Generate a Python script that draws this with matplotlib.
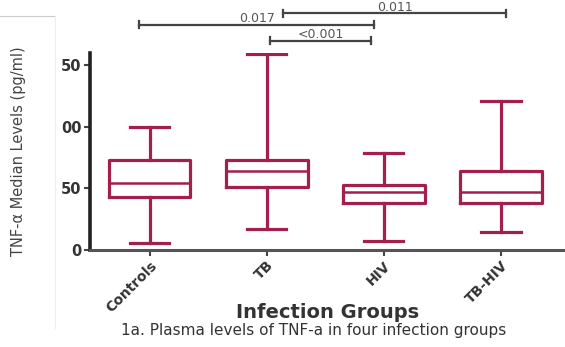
import matplotlib
matplotlib.use("Agg")
from matplotlib import pyplot as plt
from matplotlib.lines import Line2D

plt.rcParams["font.family"] = ["DejaVu Sans"]

groups = ["Controls", "TB", "HIV", "TB-HIV"]
whis_lo = [6, 17, 7, 15]
q1 = [43, 51, 38, 38]
med = [54, 64, 47, 47]
q3 = [73, 73, 53, 64]
whis_hi = [100, 159, 79, 121]

ytick_vals = [0, 50, 100, 150]
ytick_text = ["0", "50", "00", "50"]

# significance brackets: (left x, right x, label, height)
sig = [(-0.09, 1.92, "0.017", 183), (1.14, 3.05, "0.011", 192), (1.03, 1.89, "<0.001", 170)]

col = "#a3204a"

fig = plt.figure(figsize=(5.65, 3.47), dpi=100)
ax = fig.add_axes([0.159, 0.2795, 0.841, 0.568])

stats = []
for i, g in enumerate(groups):
    stats.append({"label": g, "med": med[i], "q1": q1[i], "q3": q3[i],
                  "whislo": whis_lo[i], "whishi": whis_hi[i], "fliers": []})

lp = dict(color=col, linewidth=2.3)
ax.bxp(stats, positions=range(4), widths=0.7, showfliers=False,
       boxprops=lp, whiskerprops=lp, capprops=lp, medianprops=dict(color=col, linewidth=1.8),
       capwidths=0.34)

ax.set_xlim(-0.51, 3.55)
ax.set_ylim(0, 160)
ax.set_yticks(ytick_vals)
ax.set_yticklabels(ytick_text, fontsize=10.5, fontweight="bold", color="#333333")
ax.set_xticks(range(4))
ax.set_xticklabels(groups, rotation=45, ha="right", rotation_mode="anchor",
                   fontsize=10, fontweight="bold", color="#333333")
for s in ["top", "right"]:
    ax.spines[s].set_visible(False)
ax.spines["left"].set_linewidth(2.6)
ax.spines["left"].set_color("#222222")
ax.spines["bottom"].set_linewidth(2.2)
ax.spines["bottom"].set_color("#555555")
ax.tick_params(axis="both", length=4, width=1.5, color="#444444", pad=2)

ax.set_ylabel("TNF-α Median Levels (pg/ml)", fontsize=10.5, color="#444444")
ax.yaxis.set_label_coords(-0.135, 0.5)

fig.text(0.58, 0.098, "Infection Groups", ha="center", va="center",
         fontsize=14, fontweight="bold", color="#333333")

for x0, x1, txt, h in sig:
    ax.plot([x0, x1], [h, h], color="#444444", lw=1.6, clip_on=False)
    for xe in (x0, x1):
        ax.plot([xe, xe], [h - 3, h + 3], color="#444444", lw=1.6, clip_on=False)
    ax.text((x0 + x1) / 2, h + 5, txt, ha="center", va="center", fontsize=9,
            color="#555555", clip_on=False)

fig.text(0.555, 0.048, "1a. Plasma levels of TNF-a in four infection groups",
         ha="center", va="center", fontsize=11, color="#333333")

# faint panel frame on the left
fig.add_artist(Line2D([0, 0.097], [0.955, 0.955], color="#cccccc", lw=0.8))
fig.add_artist(Line2D([0.097, 0.097], [0.055, 0.955], color="#eeeeee", lw=0.8))

fig.savefig("out.png", dpi=100)
